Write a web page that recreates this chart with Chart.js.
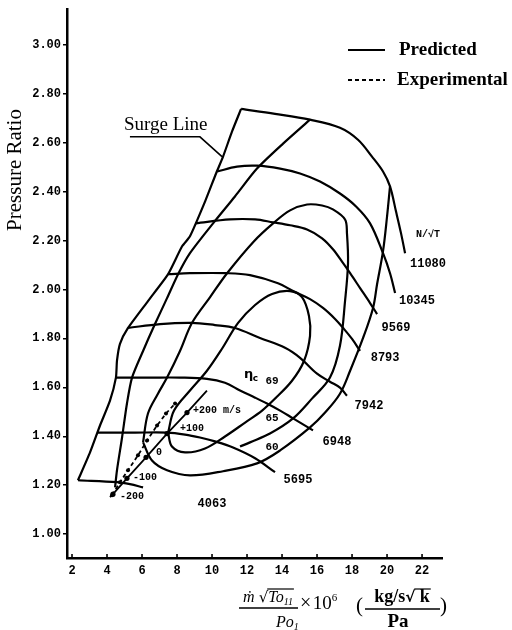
<!DOCTYPE html>
<html>
<head>
<meta charset="utf-8">
<script src="https://cdn.jsdelivr.net/npm/chart.js@4.4.0/dist/chart.umd.min.js"></script>
<style>
  html, body { margin: 0; padding: 0; background: #fff; }
  #wrap { width: 512px; height: 630px; }
</style>
</head>
<body>
<div id="wrap"><canvas id="map" width="512" height="630"></canvas></div>
<script>
// ---- axis ticks ----
const xTicks = [2, 4, 6, 8, 10, 12, 14, 16, 18, 20, 22];
const yTicks = [1.0, 1.2, 1.4, 1.6, 1.8, 2.0, 2.2, 2.4, 2.6, 2.8, 3.0];
const yTickLabels = ['1.00', '1.20', '1.40', '1.60', '1.80', '2.00', '2.20', '2.40', '2.60', '2.80', '3.00'];

// ---- constant corrected-speed lines (N/√T), [mass flow parameter, pressure ratio] ----
const speedNames = ['11080', '10345', '9569', '8793', '7942', '6948', '5695', '4063'];
const speed11080 = [[11.66,2.739],[13.60,2.719],[15.60,2.695],[17.31,2.662],[18.34,2.613],[19.14,2.544],[19.77,2.483],[20.17,2.422],[20.51,2.320],[20.80,2.230],[21.03,2.149]];
const speed10345 = [[10.29,2.483],[11.43,2.503],[12.57,2.507],[13.89,2.495],[15.03,2.475],[16.17,2.442],[17.31,2.393],[18.23,2.340],[19.03,2.271],[19.77,2.149],[20.17,2.067],[20.46,1.986]];
const speed9569  = [[9.06,2.271],[11.03,2.287],[12.46,2.287],[13.49,2.275],[14.46,2.263],[15.43,2.246],[16.29,2.210],[16.91,2.165],[17.49,2.108],[17.89,2.067],[18.46,2.006],[19.03,1.945],[19.43,1.900]];
const speed8793  = [[7.49,2.063],[8.74,2.067],[10.91,2.067],[12.17,2.059],[13.77,2.026],[14.63,1.994],[15.60,1.961],[16.34,1.925],[17.03,1.880],[17.49,1.843],[18.00,1.798],[18.46,1.749]];
const speed7942  = [[5.20,1.843],[7.03,1.859],[8.86,1.864],[10.17,1.855],[11.31,1.843],[12.74,1.802],[14.17,1.762],[15.03,1.721],[16.00,1.656],[16.74,1.623],[17.31,1.599],[17.71,1.566]];
const speed6948  = [[4.51,1.640],[6.46,1.640],[8.17,1.640],[9.71,1.635],[10.74,1.619],[11.60,1.587],[12.46,1.558],[13.14,1.534],[13.89,1.505],[14.63,1.473],[15.77,1.424]];
const speed5695  = [[3.43,1.415],[5.60,1.415],[7.43,1.415],[8.46,1.407],[9.31,1.395],[10.17,1.379],[11.20,1.354],[12.46,1.310],[13.60,1.253]];
const speed4063  = [[2.34,1.220],[4.57,1.212],[5.31,1.204],[6.06,1.191]];
const speedLines = [speed11080, speed10345, speed9569, speed8793, speed7942, speed6948, speed5695, speed4063];
const speedLabelAt = [[22.34,2.104],[21.71,1.953],[20.51,1.843],[19.89,1.721],[18.97,1.525],[17.14,1.375],[14.91,1.220],[10.00,1.122]];

// ---- surge line ----
const surgeLine = [[11.66,2.739],[11.14,2.646],[10.63,2.544],[10.23,2.475],[9.60,2.360],[8.74,2.218],[8.29,2.177],[7.49,2.063],[6.34,1.953],[5.20,1.843],[4.74,1.778],[4.57,1.709],[4.51,1.640],[4.17,1.546],[3.60,1.444],[3.03,1.334],[2.34,1.220]];
const surgeLeader = [[5.31,2.625],[9.31,2.625],[10.57,2.544]];

// ---- efficiency contours (ηc, %) ----
const effNames = ['69', '65', '60'];
const eff69 = [[7.49,1.415],[7.83,1.505],[8.74,1.587],[9.71,1.668],[10.57,1.758],[11.49,1.864],[12.46,1.937],[13.43,1.982],[14.46,1.994],[15.14,1.969],[15.54,1.892],[15.60,1.811],[15.26,1.709],[14.57,1.627],[13.60,1.554],[12.86,1.505],[11.89,1.456],[10.74,1.399],[9.60,1.350],[8.46,1.334],[7.71,1.358],[7.49,1.415]];
const eff65 = [[6.06,1.375],[6.34,1.493],[6.91,1.574],[7.43,1.640],[8.17,1.749],[8.86,1.864],[9.89,1.969],[10.86,2.067],[12.40,2.198],[13.49,2.271],[14.46,2.324],[15.43,2.348],[16.29,2.344],[16.91,2.328],[17.60,2.287],[17.71,2.230],[17.77,2.108],[17.60,1.953],[17.31,1.770],[16.74,1.640],[15.71,1.554],[14.63,1.473],[13.31,1.411],[12.17,1.375],[11.60,1.358]];
const eff60Right = [[20.17,2.422],[20.00,2.299],[19.77,2.157],[19.43,2.022],[19.20,1.925],[18.63,1.802],[17.89,1.668],[17.31,1.574],[16.46,1.497],[15.60,1.436],[13.89,1.342],[12.57,1.289],[10.63,1.257],[8.74,1.240],[7.43,1.261],[6.57,1.301],[6.06,1.375]];
const eff60Left = [[4.46,1.191],[4.57,1.261],[4.86,1.395],[5.14,1.534],[5.43,1.640],[6.06,1.749],[6.74,1.859],[7.43,1.965],[8.06,2.063],[8.74,2.149],[10.06,2.271],[11.31,2.381],[12.57,2.495],[14.06,2.597],[15.60,2.695]];
const effLabelAt = [[13.43,1.627],[13.43,1.473],[13.43,1.354]];

// ---- tip-speed variation: predicted line with marked points, experimental trace ----
const tipSpeedNames = ['-200', '-100', '0', '+100', '+200 m/s'];
const tipSpeedPts = [[4.34,1.163],[5.14,1.228],[6.23,1.314],[7.43,1.411],[8.57,1.497]];
const tipLineEnds = [[4.17,1.151],[9.71,1.587]];
const tipLabelAt = [[4.74,1.155],[5.49,1.232],[6.80,1.334],[8.17,1.432],[8.91,1.505]];
const experimental = [[4.29,1.159],[4.74,1.212],[5.20,1.261],[5.77,1.322],[6.29,1.383],[6.86,1.444],[7.37,1.493],[7.89,1.534]];

const toPts = arr => arr.map(p => ({ x: p[0], y: p[1] }));
const curve = (arr, extra) => Object.assign({
  data: toPts(arr), showLine: true, borderColor: '#000', borderWidth: 2.2,
  pointRadius: 0, tension: 0.35, fill: false
}, extra || {});

const tipLine = [tipLineEnds[0], ...tipSpeedPts, tipLineEnds[1]];

const datasets = [
  ...speedLines.map(s => curve(s)),
  curve(surgeLine, { tension: 0.2 }),
  curve(surgeLeader, { tension: 0, borderWidth: 1.6 }),
  curve(eff69), curve(eff65), curve(eff60Right), curve(eff60Left, { tension: 0.25 }),
  curve(tipLine, { tension: 0, borderWidth: 1.8,
    pointRadius: ctx => (ctx.dataIndex === 0 || ctx.dataIndex === tipLine.length - 1) ? 0 : 2.6,
    pointBackgroundColor: '#000', pointBorderWidth: 0 }),
  curve(experimental, { tension: 0, borderWidth: 1.8, borderDash: [4, 3],
    pointRadius: 2, pointBackgroundColor: '#000', pointBorderWidth: 0 })
];

// text helpers for the axis formula
function partsWidth(ctx, parts) {
  let w = 0;
  for (const p of parts) { ctx.font = p[1]; w += ctx.measureText(p[0]).width; }
  return w;
}
function drawParts(ctx, parts, x, y) {
  const spans = [];
  for (const p of parts) {
    ctx.font = p[1];
    ctx.fillText(p[0], x, y + (p[2] || 0));
    const w = ctx.measureText(p[0]).width;
    spans.push([x, x + w]);
    x += w;
  }
  return spans;
}

const annotations = {
  id: 'annotations',
  afterDraw(chart) {
    const { ctx, scales: { x, y }, chartArea } = chart;
    const px = v => x.getPixelForValue(v);
    const py = v => y.getPixelForValue(v);
    ctx.save();
    ctx.fillStyle = '#000';
    ctx.strokeStyle = '#000';

    // inward tick marks on the flow axis
    ctx.lineWidth = 1.6;
    xTicks.forEach(v => {
      ctx.beginPath();
      ctx.moveTo(px(v), chartArea.bottom);
      ctx.lineTo(px(v), chartArea.bottom - 4);
      ctx.stroke();
    });

    // speed line labels
    ctx.textAlign = 'center';
    ctx.textBaseline = 'middle';
    ctx.font = 'bold 12px "Liberation Mono", monospace';
    speedNames.forEach((n, i) => ctx.fillText(n, px(speedLabelAt[i][0]), py(speedLabelAt[i][1])));
    ctx.font = 'bold 10px "Liberation Mono", monospace';
    ctx.fillText('N/\u221AT', px(22.34), py(2.226));

    // efficiency labels
    ctx.font = 'bold 11px "Liberation Mono", monospace';
    effNames.forEach((n, i) => ctx.fillText(n, px(effLabelAt[i][0]), py(effLabelAt[i][1])));
    ctx.textAlign = 'left';
    ctx.font = 'bold 13px "DejaVu Sans", sans-serif';
    ctx.fillText('\u03B7', px(11.83), py(1.652));
    ctx.font = 'bold 9px "DejaVu Sans", sans-serif';
    ctx.fillText('c', px(12.33), py(1.636));

    // tip-speed labels
    ctx.font = 'bold 10px "Liberation Mono", monospace';
    tipSpeedNames.forEach((n, i) => ctx.fillText(n, px(tipLabelAt[i][0]), py(tipLabelAt[i][1])));

    // surge line label
    ctx.textBaseline = 'alphabetic';
    ctx.font = '19px "Liberation Serif", serif';
    ctx.fillText('Surge Line', px(4.97), py(2.654));

    // legend
    ctx.lineWidth = 2;
    ctx.beginPath(); ctx.moveTo(348, 50); ctx.lineTo(385, 50); ctx.stroke();
    ctx.setLineDash([4, 3]);
    ctx.beginPath(); ctx.moveTo(348, 80); ctx.lineTo(385, 80); ctx.stroke();
    ctx.setLineDash([]);
    ctx.font = 'bold 19px "Liberation Serif", serif';
    ctx.fillText('Predicted', 399, 55);
    ctx.fillText('Experimental', 397, 85);

    // y axis title
    ctx.save();
    ctx.translate(21, 170);
    ctx.rotate(-Math.PI / 2);
    ctx.textAlign = 'center';
    ctx.font = '21px "Liberation Serif", serif';
    ctx.fillText('Pressure Ratio', 0, 0);
    ctx.restore();

    // x axis title: m·√To11/Po1 × 10^6 (kg/s√k / Pa)
    ctx.textAlign = 'left';
    const it = 'italic 16px "Liberation Serif", "DejaVu Serif", serif';
    const itSub = 'italic 10px "Liberation Serif", serif';
    const num = [['\u1E41', it], [' ', it], ['\u221A', '15px "DejaVu Sans", sans-serif'], ['To', it], ['11', itSub, 3]];
    const nw = partsWidth(ctx, num);
    const n0 = 268 - nw / 2;
    const ns = drawParts(ctx, num, n0, 602);
    ctx.lineWidth = 1.2;
    ctx.beginPath(); ctx.moveTo(ns[2][1] - 1, 589); ctx.lineTo(ns[4][1] + 1, 589); ctx.stroke();
    ctx.lineWidth = 1.4;
    ctx.beginPath(); ctx.moveTo(239, 608); ctx.lineTo(298, 608); ctx.stroke();
    drawParts(ctx, [['Po', it], ['1', itSub, 3]], 276, 627);

    drawParts(ctx, [['\u00D7', '20px "Liberation Serif", serif'], [' ', '6px serif'], ['10', '19px "Liberation Serif", serif'], ['6', '11px "Liberation Serif", serif', -8]], 300, 609);
    ctx.font = '21px "Liberation Serif", serif';
    ctx.fillText('(', 356, 612);
    const bf = 'bold 18px "Liberation Serif", serif';
    const kg = [['kg/s', bf], ['\u221A', 'bold 15px "DejaVu Sans", sans-serif'], [' k', bf]];
    const kw = partsWidth(ctx, kg);
    const ks = drawParts(ctx, kg, 402 - kw / 2, 602);
    ctx.lineWidth = 1.2;
    ctx.beginPath(); ctx.moveTo(ks[1][1] - 1, 589); ctx.lineTo(ks[2][1] + 1, 589); ctx.stroke();
    ctx.lineWidth = 1.4;
    ctx.beginPath(); ctx.moveTo(365, 609); ctx.lineTo(440, 609); ctx.stroke();
    ctx.font = 'bold 19px "Liberation Serif", serif';
    ctx.textAlign = 'center';
    ctx.fillText('Pa', 398, 627);
    ctx.font = '21px "Liberation Serif", serif';
    ctx.textAlign = 'left';
    ctx.fillText(')', 440, 612);
    ctx.restore();
  }
};

const tickFont = { family: '"Liberation Mono", monospace', weight: 'bold', size: 12 };

new Chart(document.getElementById('map'), {
  type: 'scatter',
  data: { datasets },
  options: {
    responsive: false,
    animation: false,
    events: [],
    layout: { padding: { top: 7, right: 70, left: 0, bottom: 0 } },
    plugins: { legend: { display: false }, tooltip: { enabled: false } },
    scales: {
      x: {
        type: 'linear', min: 1.714, max: 23.14,
        afterBuildTicks: s => { s.ticks = xTicks.map(v => ({ value: v })); },
        afterFit: s => { s.height = 72; },
        grid: { display: false, drawTicks: false },
        border: { display: true, color: '#000', width: 2.5 },
        ticks: { padding: 6, color: '#000', font: tickFont, maxRotation: 0, autoSkip: false,
                 callback: v => String(v) }
      },
      y: {
        type: 'linear', min: 0.902, max: 3.147,
        afterBuildTicks: s => { s.ticks = yTicks.map(v => ({ value: v })); },
        afterFit: s => { s.width = 67; },
        grid: { display: true, drawOnChartArea: false, drawTicks: true, tickLength: 4, color: '#000', lineWidth: 1.5 },
        border: { display: true, color: '#000', width: 2.5 },
        ticks: { padding: 2, color: '#000', font: tickFont, autoSkip: false,
                 callback: (v, i) => yTickLabels[i] }
      }
    }
  },
  plugins: [annotations]
});
</script>
</body>
</html>
